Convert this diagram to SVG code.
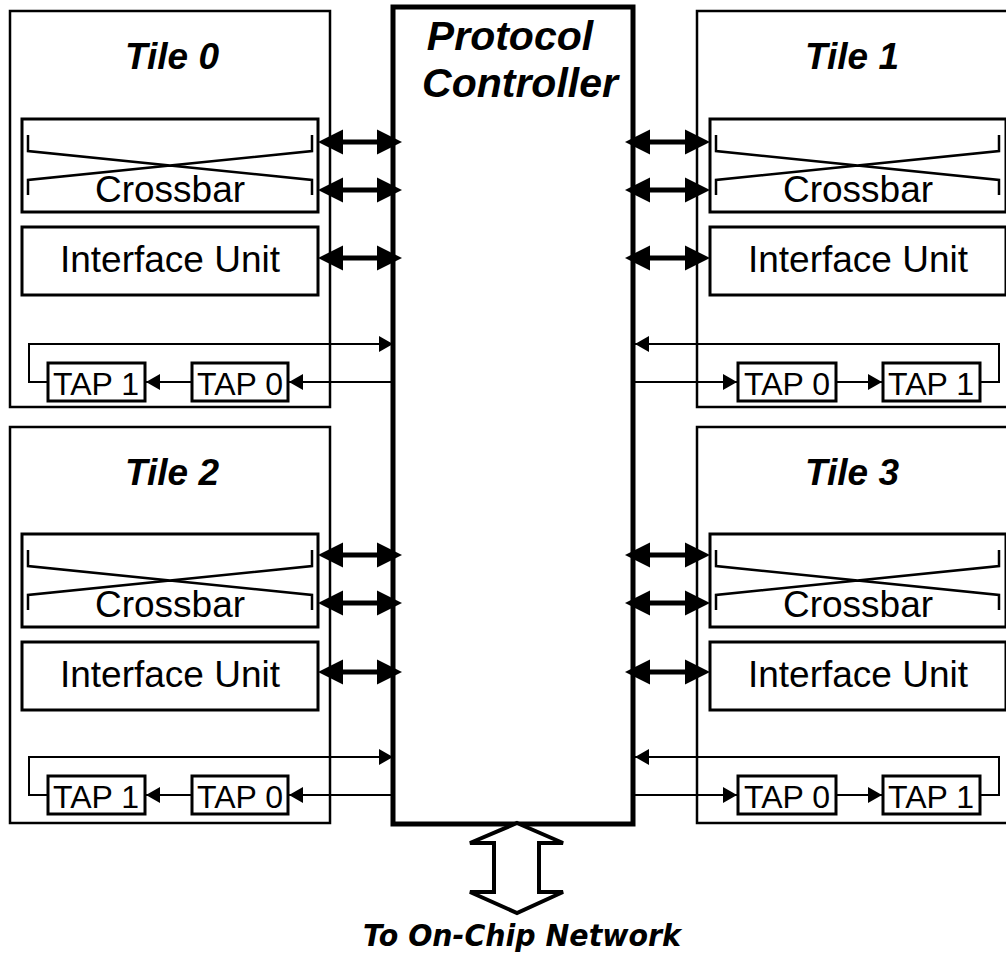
<svg xmlns="http://www.w3.org/2000/svg" width="1006" height="954" viewBox="0 0 1006 954">
<style>
.tile{fill:#fff;stroke:#000;stroke-width:2.5}
.box{fill:#fff;stroke:#000;stroke-width:3}
.xb{fill:none;stroke:#000;stroke-width:2.5}
.pc{fill:#fff;stroke:#000;stroke-width:5}
.title{font-family:"Liberation Sans",Arial,sans-serif;font-weight:bold;font-style:italic;font-size:37px;text-anchor:middle}
.pct{font-family:"Liberation Sans",Arial,sans-serif;font-weight:bold;font-style:italic;font-size:41px;text-anchor:middle}
.lbl{font-family:"Liberation Sans",Arial,sans-serif;font-size:37px;text-anchor:middle}
.tap{font-family:"Liberation Sans",Arial,sans-serif;font-size:32px;text-anchor:middle}
.big{fill:none;stroke:#000;stroke-width:5;marker-start:url(#bh);marker-end:url(#bh)}
.thin{fill:none;stroke:#000;stroke-width:2;marker-end:url(#sh)}
.net{fill:#fff;stroke:#000;stroke-width:4;stroke-linejoin:miter}
.nett{font-family:"DejaVu Sans",sans-serif;font-weight:bold;font-style:italic;font-size:30px;text-anchor:middle}
</style>
<defs>
<marker id="bh" markerUnits="userSpaceOnUse" markerWidth="26" markerHeight="26" refX="0" refY="12.5" orient="auto-start-reverse" viewBox="0 0 26 25">
<path d="M0,0 L25,12.5 L0,25 Z" fill="#000"/>
</marker>
<marker id="sh" markerUnits="userSpaceOnUse" markerWidth="15" markerHeight="16" refX="14" refY="8" orient="auto" viewBox="0 0 15 16">
<path d="M0,0 L14,8 L0,16 Z" fill="#000"/>
</marker>
</defs>

<g id="tile0">
<rect class="tile" x="10" y="11" width="320" height="396"/>
<text class="title" x="172" y="69">Tile 0</text>
<rect class="box" x="22" y="119" width="296" height="93"/>
<path class="xb" d="M28,135 V151 L312,180 V195 M312,135 V151 L28,180 V195"/>
<text class="lbl" x="170" y="202">Crossbar</text>
<rect class="box" x="22" y="227" width="296" height="68"/>
<text class="lbl" x="170" y="272">Interface Unit</text>
<rect class="box" x="48" y="363" width="97" height="38"/>
<text class="tap" x="96" y="395">TAP 1</text>
<rect class="box" x="192" y="363" width="96" height="38"/>
<text class="tap" x="240" y="395">TAP 0</text>
</g>

<g id="tile1">
<rect class="tile" x="697" y="11" width="320" height="396"/>
<text class="title" x="852" y="69">Tile 1</text>
<rect class="box" x="710" y="119" width="296" height="93"/>
<path class="xb" d="M716,135 V151 L999,180 V195 M999,135 V151 L716,180 V195"/>
<text class="lbl" x="858" y="202">Crossbar</text>
<rect class="box" x="710" y="227" width="296" height="68"/>
<text class="lbl" x="858" y="272">Interface Unit</text>
<rect class="box" x="738" y="363" width="98" height="38"/>
<text class="tap" x="787" y="395">TAP 0</text>
<rect class="box" x="883" y="363" width="97" height="38"/>
<text class="tap" x="931" y="395">TAP 1</text>
</g>

<g id="tile2">
<rect class="tile" x="10" y="427" width="320" height="396"/>
<text class="title" x="172" y="485">Tile 2</text>
<rect class="box" x="22" y="534" width="296" height="93"/>
<path class="xb" d="M28,550 V566 L312,595 V610 M312,550 V566 L28,595 V610"/>
<text class="lbl" x="170" y="617">Crossbar</text>
<rect class="box" x="22" y="642" width="296" height="68"/>
<text class="lbl" x="170" y="687">Interface Unit</text>
<rect class="box" x="48" y="776" width="97" height="38"/>
<text class="tap" x="96" y="808">TAP 1</text>
<rect class="box" x="192" y="776" width="96" height="38"/>
<text class="tap" x="240" y="808">TAP 0</text>
</g>

<g id="tile3">
<rect class="tile" x="697" y="427" width="320" height="396"/>
<text class="title" x="852" y="485">Tile 3</text>
<rect class="box" x="710" y="534" width="296" height="93"/>
<path class="xb" d="M716,550 V566 L999,595 V610 M999,550 V566 L716,595 V610"/>
<text class="lbl" x="858" y="617">Crossbar</text>
<rect class="box" x="710" y="642" width="296" height="68"/>
<text class="lbl" x="858" y="687">Interface Unit</text>
<rect class="box" x="738" y="776" width="98" height="38"/>
<text class="tap" x="787" y="808">TAP 0</text>
<rect class="box" x="883" y="776" width="97" height="38"/>
<text class="tap" x="931" y="808">TAP 1</text>
</g>

<g id="protocol-controller">
<rect class="pc" x="393" y="7" width="240" height="817"/>
<text class="pct" x="510" y="50">Protocol</text>
<text class="pct" x="520" y="97">Controller</text>
</g>

<g id="network">
<path class="net" d="M517,823 L563,843 L539,843 L539,892 L563,892 L517,913 L470,892 L494,892 L494,843 L470,843 Z"/>
<text class="nett" x="522" y="946" textLength="318" lengthAdjust="spacingAndGlyphs">To On-Chip Network</text>
</g>

<g id="connectors">
<path class="big" d="M343,142 H377"/>
<path class="big" d="M343,190 H377"/>
<path class="big" d="M343,258 H377"/>
<path class="big" d="M650,142 H685"/>
<path class="big" d="M650,190 H685"/>
<path class="big" d="M650,258 H685"/>
<path class="big" d="M343,555 H377"/>
<path class="big" d="M343,603 H377"/>
<path class="big" d="M343,672 H377"/>
<path class="big" d="M650,555 H685"/>
<path class="big" d="M650,603 H685"/>
<path class="big" d="M650,672 H685"/>

<path class="thin" d="M391,382 H289"/>
<path class="thin" d="M192,382 H146"/>
<path class="thin" d="M48,382 H29 V344 H393"/>
<path class="thin" d="M635,382 H737"/>
<path class="thin" d="M836,382 H882"/>
<path class="thin" d="M980,382 H999 V344 H635"/>

<path class="thin" d="M391,795 H289"/>
<path class="thin" d="M192,795 H146"/>
<path class="thin" d="M48,795 H29 V757 H393"/>
<path class="thin" d="M635,795 H737"/>
<path class="thin" d="M836,795 H882"/>
<path class="thin" d="M980,795 H999 V757 H635"/>
</g>
</svg>
